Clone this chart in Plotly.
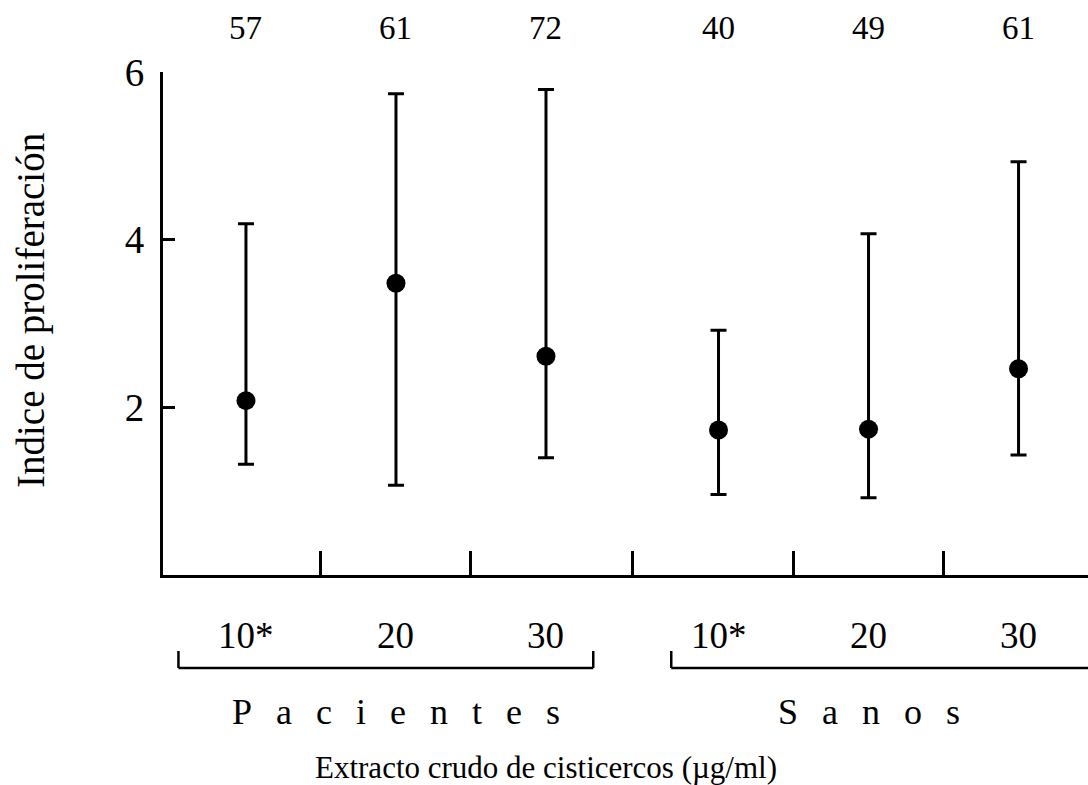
import plotly.graph_objects as go

# ---- data ----
groups = ["Pacientes", "Pacientes", "Pacientes", "Sanos", "Sanos", "Sanos"]
doses = ["10*", "20", "30", "10*", "20", "30"]
means = [2.08, 3.48, 2.61, 1.73, 1.74, 2.46]
upper = [4.19, 5.74, 5.79, 2.92, 4.07, 4.93]
lower = [1.32, 1.07, 1.40, 0.96, 0.92, 1.43]
n_counts = [57, 61, 72, 40, 49, 61]
group_names = ["Pacientes", "Sanos"]
y_ticks = [2, 4, 6]

FONT = "Liberation Serif"
GROUP_GAP = 0.15

# category positions: index plus a gap between groups
xpos = []
for i, g in enumerate(groups):
    xpos.append(i + GROUP_GAP * group_names.index(g))

err_plus = [u - m for u, m in zip(upper, means)]
err_minus = [m - l for m, l in zip(means, lower)]

fig = go.Figure()
fig.add_trace(go.Scatter(
    x=xpos, y=means, mode="markers",
    marker=dict(color="black", size=19),
    error_y=dict(type="data", symmetric=False, array=err_plus, arrayminus=err_minus,
                 color="black", thickness=3, width=8),
    showlegend=False, cliponaxis=False,
))

xmin, xmax = -0.553, 5.613
mids = [(xpos[i] + xpos[i + 1]) / 2 for i in range(len(xpos) - 1)]

fig.update_layout(
    width=1088, height=785,
    margin=dict(l=163, r=0, t=72, b=210),
    paper_bgcolor="white", plot_bgcolor="white",
    font=dict(family=FONT, color="black"),
    xaxis=dict(range=[xmin, xmax], showgrid=False, zeroline=False,
               showline=True, linecolor="black", linewidth=3,
               tickmode="array", tickvals=mids, ticktext=[""] * len(mids),
               ticks="inside", ticklen=24, tickwidth=2.5, tickcolor="black"),
    yaxis=dict(range=[0, 6], showgrid=False, zeroline=False,
               showline=True, linecolor="black", linewidth=3,
               tickmode="array", tickvals=y_ticks, ticktext=[str(t) for t in y_ticks],
               ticks="inside", ticklen=12, tickwidth=3, tickcolor="black",
               tickfont=dict(size=39, family=FONT), ticklabelstandoff=8),
)

annotations = []
# n counts above
for x, n in zip(xpos, n_counts):
    annotations.append(dict(x=x, y=1, xref="x", yref="paper", text=str(n), showarrow=False,
                            yshift=44, yanchor="middle", font=dict(size=33, family=FONT)))
# dose labels below
for x, d in zip(xpos, doses):
    annotations.append(dict(x=x, y=0, xref="x", yref="paper", text=d, showarrow=False,
                            yshift=-60, yanchor="middle", font=dict(size=37, family=FONT)))

# group brackets and labels
shapes = []
yb = -93 / 503
ytop = -76 / 503
for gi, gname in enumerate(group_names):
    gx = [x for x, g in zip(xpos, groups) if g == gname]
    if gi == 0:
        left = gx[0] - 0.45
    else:
        prev_last = [x for x, g in zip(xpos, groups) if g == group_names[gi - 1]][-1]
        left = (prev_last + gx[0]) / 2 + 0.26
    if gi < len(group_names) - 1:
        next_first = [x for x, g in zip(xpos, groups) if g == group_names[gi + 1]][0]
        right = (gx[-1] + next_first) / 2 - 0.26
        draw_right = True
    else:
        right = xmax
        draw_right = False
    shapes.append(dict(type="line", xref="x", yref="paper", x0=left, x1=right, y0=yb, y1=yb,
                       line=dict(color="black", width=2.5)))
    shapes.append(dict(type="line", xref="x", yref="paper", x0=left, x1=left, y0=yb, y1=ytop,
                       line=dict(color="black", width=2.5)))
    if draw_right:
        shapes.append(dict(type="line", xref="x", yref="paper", x0=right, x1=right, y0=yb, y1=ytop,
                           line=dict(color="black", width=2.5)))
    spaced = "\u2002\u2006".join(list(gname))
    annotations.append(dict(x=sum(gx) / len(gx), y=0, xref="x", yref="paper", text=spaced,
                            showarrow=False, yshift=-137, yanchor="middle",
                            font=dict(size=36, family=FONT)))

# axis titles
annotations.append(dict(x=(546 - 163) / 925, y=0, xref="paper", yref="paper",
                        text="Extracto crudo de cisticercos (µg/ml)", showarrow=False,
                        yshift=-192, yanchor="middle", font=dict(size=31, family=FONT)))
annotations.append(dict(x=(31 - 163) / 925, y=(575 - 311) / 503, xref="paper", yref="paper",
                        text="Indice de proliferación", showarrow=False, textangle=-90,
                        xanchor="center", yanchor="middle", font=dict(size=39, family=FONT)))

fig.update_layout(annotations=annotations, shapes=shapes)
fig.write_html("out.html")
